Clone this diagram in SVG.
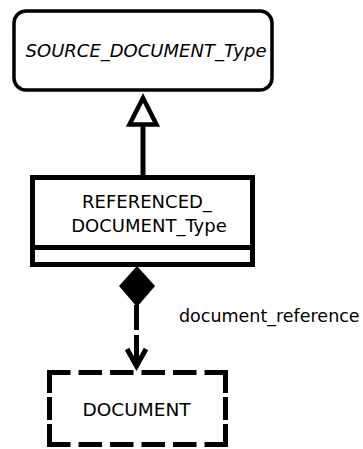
<svg xmlns="http://www.w3.org/2000/svg" width="363" height="449" viewBox="0 0 363 449">
<style>
.t{font-family:"DejaVu Sans","Liberation Sans",sans-serif;fill:#000}
.box{fill:#fff;stroke:#000}
.ln{fill:none;stroke:#000;stroke-width:5}
.dash{fill:none;stroke:#000;stroke-width:5}
</style>
<rect width="363" height="449" fill="#fff"/>
<g id="connectors">
  <g id="inheritance">
    <line class="ln" x1="143" y1="124" x2="143" y2="176"/>
    <polygon points="143,98 129.5,124.5 156.5,124.5" fill="#fff" stroke="#000" stroke-width="4.5" stroke-linejoin="miter"/>
  </g>
  <g id="composition">
    <polygon points="137,266 155,286 137,307 119,286" fill="#000"/>
    <path class="ln" d="M136.5,305 V330 M136.5,335 V365"/>
    <polyline class="ln" points="127,349 136.5,366 146,349" stroke-linejoin="miter"/>
    <text class="t" x="179" y="322" font-size="17.5">document_reference</text>
  </g>
</g>
<g id="SOURCE_DOCUMENT_Type">
  <rect class="box" x="14" y="11" width="258" height="79" rx="12" ry="12" stroke-width="3.5"/>
  <text class="t" x="146" y="57" font-size="18" font-style="italic" text-anchor="middle">SOURCE_DOCUMENT_Type</text>
</g>
<g id="REFERENCED_DOCUMENT_Type">
  <rect class="box" x="32.5" y="177.5" width="220" height="87" stroke-width="5"/>
  <line x1="32.5" y1="247.5" x2="252.5" y2="247.5" stroke="#000" stroke-width="5"/>
  <text class="t" x="147" y="208" font-size="18" text-anchor="middle">REFERENCED_</text>
  <text class="t" x="149" y="232" font-size="18" text-anchor="middle">DOCUMENT_Type</text>
</g>
<g id="DOCUMENT">
  <path class="dash" d="M47,372.5 H228" stroke-dasharray="23.5 8"/>
  <path class="dash" d="M47,444.5 H228" stroke-dasharray="23.5 8"/>
  <path class="dash" d="M49.5,370 V447" stroke-dasharray="23 4"/>
  <path class="dash" d="M225.5,370 V447" stroke-dasharray="23 4"/>
  <text class="t" x="136.5" y="416" font-size="18.5" text-anchor="middle">DOCUMENT</text>
</g>
</svg>
